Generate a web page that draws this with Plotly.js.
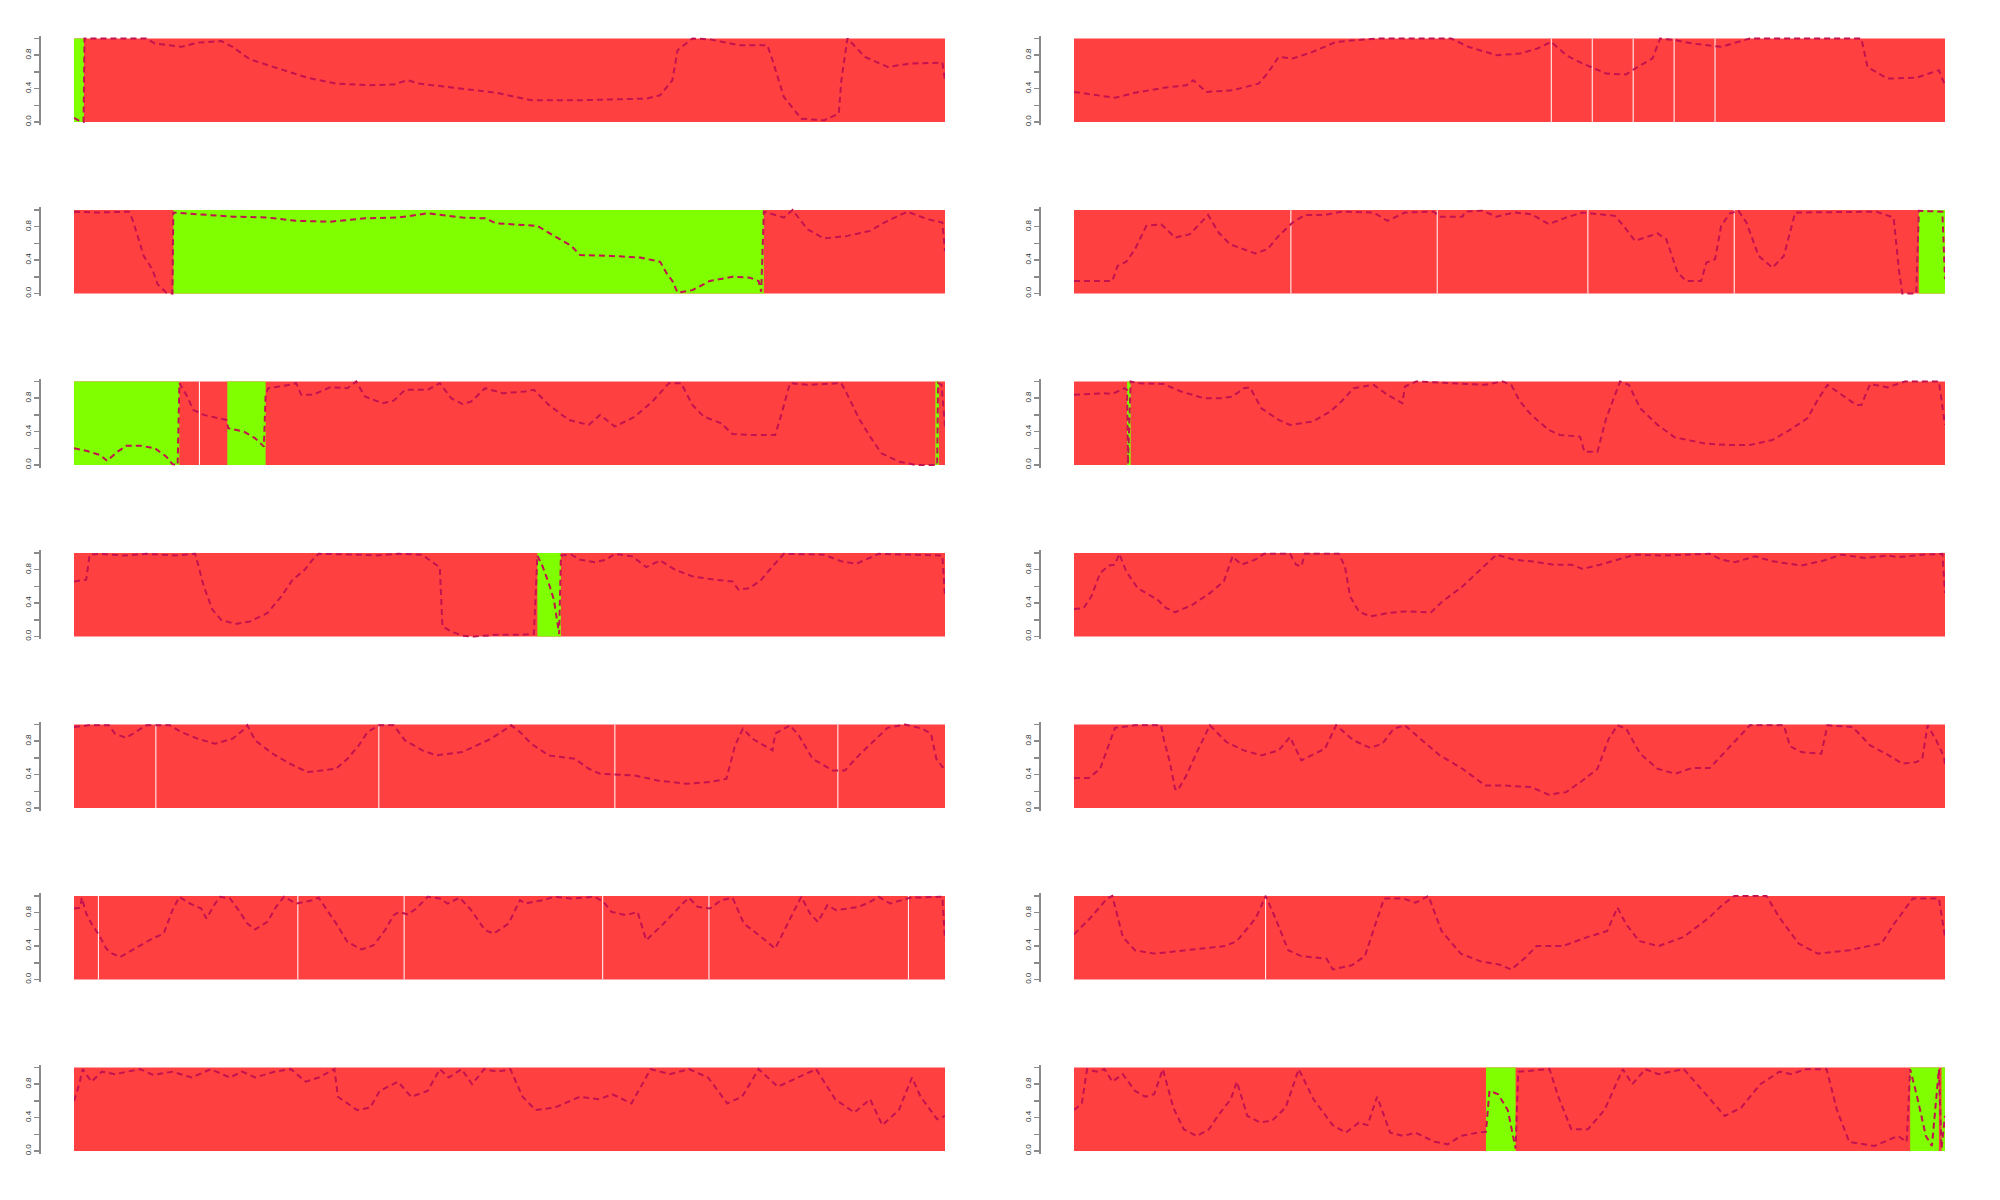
<!DOCTYPE html>
<html><head><meta charset="utf-8">
<script src="https://cdn.plot.ly/plotly-3.0.1.min.js"></script>
<style>html,body{margin:0;padding:0;background:#fff}#chart{width:2000px;height:1200px}</style>
</head><body><div id="chart"></div>
<script>
// ---- data: positions in % of sequence length, values 0..1 ----
const L1line=[[0,0.05],[0.5,0.02],[1.1,0.0],[1.2,1.0],[8.3,1.0],[9.3,0.94],[12.3,0.9],[14.2,0.95],[16.9,0.97],[18.2,0.9],[20.2,0.75],[23.5,0.64],[26.8,0.53],[30.1,0.46],[34.0,0.44],[36.7,0.45],[38.3,0.5],[39.6,0.46],[44.6,0.4],[48.5,0.35],[52.5,0.26],[57.8,0.26],[65.7,0.28],[67.3,0.32],[68.7,0.5],[69.3,0.86],[71.0,1.0],[73.0,0.99],[76.3,0.92],[79.6,0.92],[80.2,0.74],[81.5,0.3],[83.5,0.04],[86.1,0.02],[87.8,0.1],[88.1,0.5],[88.8,1.0],[90.8,0.78],[93.4,0.66],[96.0,0.7],[99.7,0.71],[100,0.5]];
const L1green=[[0,1.15]];
const L1breaks=[];

const R1line=[[0,0.36],[4.7,0.29],[7.0,0.35],[10.3,0.41],[12.9,0.44],[13.7,0.5],[15.2,0.36],[18.2,0.38],[21.2,0.46],[22.2,0.58],[23.5,0.78],[25.1,0.76],[27.4,0.84],[30.1,0.96],[34.7,1.0],[43.3,1.0],[45.3,0.9],[48.5,0.8],[51.2,0.82],[53.2,0.88],[54.8,0.96],[56.5,0.8],[58.4,0.7],[61.1,0.58],[63.4,0.57],[64.4,0.64],[66.4,0.76],[67.3,1.0],[69.0,0.98],[71.0,0.94],[74.3,0.9],[77.6,1.0],[90.4,1.0],[91.1,0.66],[93.4,0.52],[96.7,0.53],[99.3,0.62],[100,0.44]];
const R1green=[];
const R1breaks=[54.8,59.5,64.2,68.9,73.6];

const L2line=[[0,0.98],[2.4,0.97],[6.3,0.98],[6.7,0.89],[7.3,0.69],[8.0,0.45],[9.0,0.29],[9.6,0.11],[10.6,0.01],[11.3,0.0],[11.4,0.97],[14.2,0.95],[18.2,0.92],[22.2,0.91],[25.5,0.87],[29.4,0.86],[33.4,0.9],[37.3,0.91],[40.6,0.96],[44.6,0.91],[47.2,0.9],[48.5,0.84],[53.2,0.81],[55.1,0.69],[57.1,0.57],[58.1,0.46],[61.7,0.45],[65.0,0.43],[67.3,0.38],[68.0,0.25],[68.7,0.15],[69.3,0.01],[71.0,0.04],[73.0,0.15],[75.6,0.2],[77.6,0.19],[78.6,0.15],[78.9,0.02],[79.2,0.98],[81.5,0.91],[82.5,1.0],[84.2,0.77],[86.1,0.66],[88.8,0.69],[91.4,0.75],[93.4,0.87],[95.7,0.98],[98.0,0.89],[99.7,0.85],[100,0.51]];
const L2green=[[11.4,79.2]];
const L2breaks=[];

const R2line=[[0,0.15],[4.4,0.15],[5.0,0.33],[6.0,0.38],[7.0,0.53],[8.3,0.81],[10.0,0.83],[11.6,0.67],[13.3,0.71],[15.4,0.94],[16.6,0.73],[17.9,0.59],[20.8,0.48],[22.2,0.53],[23.5,0.69],[25.1,0.85],[26.5,0.94],[28.8,0.94],[30.7,0.98],[34.4,0.97],[36.0,0.87],[38.0,0.97],[41.3,0.98],[41.95,0.92],[44.6,0.92],[44.9,0.98],[46.9,0.99],[48.5,0.92],[50.5,0.97],[52.5,0.95],[54.5,0.83],[56.5,0.91],[58.4,0.97],[59.4,0.96],[62.1,0.93],[63.1,0.81],[64.4,0.63],[67.0,0.72],[68.0,0.65],[69.3,0.25],[70.3,0.15],[72.0,0.15],[72.6,0.37],[73.6,0.41],[74.3,0.81],[75.3,0.96],[76.3,0.99],[77.2,0.85],[78.6,0.45],[80.2,0.31],[81.5,0.45],[82.8,0.97],[92.1,0.98],[94.1,0.91],[94.7,0.29],[95.1,0.0],[96.7,0.0],[97.0,0.99],[99.7,0.98],[100,0.17]];
const R2green=[[97.0,100]];
const R2breaks=[24.9,41.7,59.0,75.8];

const L3line=[[0,0.2],[1.4,0.17],[3.0,0.12],[3.8,0.05],[5.0,0.16],[6.0,0.23],[7.7,0.23],[9.3,0.2],[10.6,0.1],[11.3,0.01],[11.9,0.0],[12.1,0.98],[12.9,0.84],[13.7,0.66],[14.9,0.6],[17.5,0.54],[17.7,0.44],[19.5,0.4],[20.8,0.32],[21.8,0.22],[22.0,0.84],[22.3,0.92],[24.8,0.96],[25.5,0.98],[26.1,0.84],[27.4,0.84],[29.4,0.93],[31.4,0.92],[32.4,1.0],[33.4,0.82],[35.4,0.74],[36.7,0.77],[38.0,0.9],[40.6,0.9],[42.0,0.98],[43.3,0.8],[44.6,0.73],[45.6,0.76],[47.2,0.92],[49.2,0.86],[51.8,0.88],[52.8,0.9],[54.5,0.72],[56.8,0.54],[59.1,0.48],[60.4,0.6],[62.1,0.46],[64.4,0.58],[66.4,0.76],[68.3,0.98],[69.7,0.98],[71.0,0.72],[72.3,0.58],[74.3,0.5],[75.6,0.37],[77.6,0.36],[80.5,0.36],[81.2,0.6],[82.2,0.98],[84.2,0.96],[88.1,0.98],[88.8,0.84],[90.1,0.56],[91.4,0.34],[92.7,0.14],[94.7,0.04],[96.7,0.0],[98.7,0.0],[99.1,0.0],[99.2,0.98],[99.6,0.96],[100,0.46]];
const L3green=[[0,12.1],[17.6,22.0],[98.9,99.3]];
const L3breaks=[14.4];

const R3line=[[0,0.84],[1.6,0.85],[3.4,0.86],[4.4,0.85],[5.8,0.92],[6.1,0.9],[6.2,0.01],[6.5,1.0],[7.3,0.98],[10.3,0.97],[12.3,0.88],[14.9,0.8],[16.9,0.8],[18.2,0.82],[19.5,0.92],[20.2,0.93],[21.5,0.68],[23.5,0.54],[24.8,0.48],[27.4,0.52],[29.4,0.64],[30.7,0.76],[32.1,0.92],[34.4,0.96],[36.0,0.84],[37.7,0.74],[38.0,0.94],[39.3,1.0],[44.6,0.97],[47.2,0.96],[49.2,1.0],[50.2,0.96],[51.2,0.76],[52.5,0.6],[54.5,0.42],[55.8,0.36],[58.1,0.34],[58.6,0.16],[60.1,0.16],[61.1,0.56],[62.7,1.0],[63.7,0.96],[65.0,0.68],[67.0,0.48],[69.0,0.33],[72.3,0.26],[74.9,0.24],[77.6,0.24],[80.2,0.3],[82.2,0.42],[84.2,0.56],[85.5,0.8],[86.5,0.96],[88.1,0.84],[89.8,0.72],[90.4,0.72],[91.4,0.97],[93.4,0.93],[95.4,1.0],[99.3,1.0],[100,0.48]];
const R3green=[[6.1,6.5]];
const R3breaks=[];

const L4line=[[0,0.66],[1.4,0.68],[1.8,0.98],[3.0,0.99],[5.7,0.97],[8.3,0.99],[11.6,0.97],[13.9,0.99],[14.2,0.88],[14.9,0.6],[15.9,0.32],[16.9,0.2],[18.5,0.15],[20.2,0.18],[22.2,0.28],[23.8,0.48],[25.1,0.68],[26.5,0.8],[27.4,0.92],[28.1,0.99],[32.7,0.98],[34.7,0.97],[37.3,0.99],[40.0,0.98],[41.0,0.9],[42.0,0.83],[42.3,0.12],[43.3,0.06],[44.6,0.01],[45.9,0.0],[48.5,0.02],[51.2,0.02],[52.8,0.03],[53.2,0.97],[53.8,0.84],[54.5,0.64],[55.1,0.44],[55.7,0.03],[55.9,0.97],[57.1,0.98],[58.1,0.92],[59.8,0.89],[61.1,0.92],[62.1,0.99],[64.1,0.96],[65.7,0.83],[67.3,0.91],[69.0,0.8],[71.0,0.72],[73.6,0.68],[75.6,0.66],[76.3,0.56],[77.6,0.58],[78.9,0.68],[80.2,0.84],[81.5,0.99],[86.1,0.98],[88.1,0.9],[89.8,0.87],[91.4,0.94],[92.4,0.99],[99.7,0.97],[100,0.48]];
const L4green=[[53.2,55.9]];
const L4breaks=[];

const R4line=[[0,0.33],[1.1,0.34],[2.0,0.48],[3.0,0.76],[4.0,0.85],[4.7,0.86],[5.2,0.99],[6.0,0.78],[7.3,0.58],[8.3,0.52],[9.6,0.44],[10.6,0.34],[11.6,0.29],[13.6,0.38],[15.6,0.52],[17.2,0.66],[18.2,0.96],[19.2,0.86],[20.8,0.92],[21.8,0.99],[24.8,0.99],[25.5,0.86],[26.1,0.84],[26.5,0.99],[30.4,0.99],[31.1,0.84],[31.7,0.48],[32.7,0.3],[34.0,0.24],[36.0,0.28],[38.0,0.3],[41.0,0.29],[42.3,0.42],[44.6,0.6],[46.6,0.8],[48.5,0.98],[50.5,0.92],[52.5,0.9],[55.1,0.86],[57.1,0.86],[58.4,0.81],[60.4,0.86],[62.4,0.92],[64.4,0.98],[67.7,0.97],[73.0,0.99],[74.3,0.92],[75.9,0.89],[78.2,0.96],[80.2,0.9],[83.5,0.85],[86.1,0.91],[88.1,0.98],[90.8,0.94],[93.4,0.97],[94.7,0.95],[97.4,0.98],[99.7,0.99],[100,0.52]];
const R4green=[];
const R4breaks=[];

const L5line=[[0,0.97],[1.7,0.99],[4.0,0.99],[4.7,0.89],[6.0,0.84],[7.3,0.93],[8.3,0.99],[11.0,0.99],[12.3,0.91],[14.2,0.83],[16.2,0.77],[18.2,0.83],[19.4,0.93],[19.9,0.99],[20.8,0.81],[22.8,0.65],[24.8,0.53],[26.8,0.43],[30.1,0.47],[31.4,0.59],[32.7,0.75],[33.7,0.91],[35.0,0.99],[36.7,0.99],[38.0,0.81],[40.0,0.69],[41.6,0.63],[44.6,0.67],[47.9,0.83],[50.2,0.99],[51.2,0.91],[52.5,0.77],[54.5,0.63],[57.5,0.59],[59.1,0.47],[60.4,0.41],[64.4,0.39],[67.0,0.33],[70.3,0.29],[73.0,0.31],[74.9,0.35],[75.9,0.75],[76.8,0.95],[77.9,0.83],[80.2,0.69],[80.5,0.89],[81.5,0.95],[82.2,0.99],[83.2,0.87],[84.8,0.59],[87.1,0.45],[88.5,0.45],[90.1,0.63],[92.1,0.83],[93.4,0.96],[95.4,1.0],[97.4,0.95],[98.4,0.89],[99.0,0.59],[99.7,0.49],[100,0.49]];
const L5green=[];
const L5breaks=[9.4,35.0,62.1,87.7];

const R5line=[[0,0.36],[1.7,0.36],[3.0,0.47],[4.0,0.75],[4.7,0.96],[7.0,0.99],[10.0,0.99],[10.3,0.83],[11.0,0.55],[11.6,0.23],[11.9,0.21],[12.9,0.39],[14.2,0.69],[15.6,0.99],[17.5,0.79],[19.5,0.69],[21.5,0.63],[23.5,0.69],[24.8,0.85],[26.1,0.57],[28.8,0.71],[30.1,0.99],[32.1,0.81],[34.0,0.72],[35.4,0.77],[36.7,0.95],[38.0,0.99],[39.3,0.87],[42.0,0.63],[44.6,0.47],[47.2,0.27],[49.2,0.27],[52.5,0.25],[54.5,0.16],[56.5,0.19],[58.4,0.33],[60.1,0.47],[61.4,0.83],[62.4,0.99],[63.4,0.95],[65.0,0.65],[67.0,0.47],[69.0,0.41],[71.0,0.48],[73.0,0.48],[74.9,0.69],[77.6,0.99],[81.5,0.99],[82.2,0.74],[83.5,0.67],[85.8,0.65],[86.5,0.99],[89.4,0.97],[91.4,0.75],[93.4,0.64],[95.1,0.53],[96.7,0.55],[97.4,0.59],[98.0,0.99],[99.0,0.81],[99.9,0.61],[100,0.51]];
const R5green=[];
const R5breaks=[];

const L6line=[[0,0.85],[0.7,0.86],[0.9,0.98],[1.4,0.79],[2.0,0.67],[2.9,0.53],[3.7,0.37],[4.4,0.31],[5.3,0.27],[7.0,0.37],[9.0,0.49],[10.3,0.55],[11.3,0.83],[12.1,0.99],[13.3,0.91],[14.6,0.85],[15.2,0.73],[16.2,0.91],[16.8,0.99],[17.9,0.97],[18.9,0.83],[19.9,0.67],[20.8,0.6],[22.2,0.69],[23.2,0.87],[24.1,0.99],[25.5,0.91],[27.4,0.95],[28.1,0.98],[28.8,0.87],[30.1,0.67],[31.4,0.45],[33.0,0.36],[34.4,0.41],[35.7,0.59],[36.7,0.77],[37.3,0.81],[38.3,0.78],[39.3,0.85],[40.6,0.99],[42.0,0.97],[42.9,0.91],[44.3,0.98],[45.6,0.83],[47.2,0.59],[48.2,0.55],[49.9,0.67],[51.2,0.95],[51.8,0.91],[53.8,0.95],[55.1,0.99],[57.1,0.97],[59.8,0.99],[60.8,0.93],[61.7,0.81],[63.4,0.77],[64.7,0.81],[65.7,0.47],[67.7,0.67],[69.7,0.89],[70.6,0.98],[71.6,0.87],[73.0,0.85],[74.3,0.95],[75.6,0.98],[76.9,0.67],[78.9,0.51],[80.5,0.37],[81.9,0.67],[82.9,0.87],[83.5,0.99],[84.5,0.79],[85.4,0.69],[86.5,0.89],[87.5,0.83],[90.1,0.87],[91.4,0.93],[92.4,0.99],[93.7,0.91],[96.0,0.98],[99.7,0.99],[100,0.47]];
const L6green=[];
const L6breaks=[2.8,25.7,37.9,60.7,72.9,95.8];

const R6line=[[0,0.54],[1.9,0.74],[3.8,0.97],[4.4,1.0],[5.6,0.51],[7.0,0.35],[9.2,0.31],[12.9,0.35],[17.3,0.4],[18.7,0.46],[20.9,0.74],[22.0,1.0],[23.1,0.74],[24.6,0.35],[26.1,0.28],[29.0,0.25],[29.7,0.12],[31.9,0.17],[33.4,0.28],[34.6,0.66],[35.6,0.97],[37.8,0.97],[39.2,0.92],[40.7,1.0],[42.2,0.58],[44.4,0.31],[46.6,0.22],[48.8,0.18],[50.2,0.12],[51.7,0.25],[53.1,0.4],[56.1,0.4],[59.0,0.51],[61.2,0.58],[62.4,0.86],[63.4,0.66],[64.9,0.46],[67.1,0.4],[70.0,0.51],[72.9,0.74],[74.4,0.89],[75.8,1.0],[79.5,1.0],[81.0,0.74],[83.2,0.43],[85.4,0.31],[89.0,0.35],[91.2,0.4],[92.7,0.43],[94.1,0.66],[96.3,0.97],[99.3,0.97],[100,0.51]];
const R6green=[];
const R6breaks=[22.0];

const L7line=[[0,0.6],[0.6,0.8],[1.0,0.98],[2.0,0.83],[3.2,0.95],[4.7,0.92],[6.1,0.95],[7.6,0.98],[9.1,0.91],[11.3,0.95],[13.5,0.88],[15.7,0.98],[17.9,0.88],[19.3,0.95],[20.8,0.88],[23.0,0.95],[24.9,0.98],[26.6,0.83],[28.1,0.88],[29.9,0.98],[30.3,0.65],[32.5,0.49],[34.0,0.52],[35.1,0.72],[37.2,0.83],[38.7,0.65],[40.6,0.72],[42.0,0.98],[43.0,0.88],[44.5,0.98],[45.7,0.8],[47.1,0.98],[48.6,0.95],[50.1,0.98],[51.5,0.65],[53.0,0.49],[55.2,0.52],[58.1,0.65],[60.3,0.62],[61.8,0.68],[64.0,0.57],[66.2,0.98],[68.4,0.92],[70.6,0.98],[72.8,0.88],[75.0,0.57],[76.7,0.65],[78.6,0.98],[80.8,0.77],[83.0,0.88],[85.2,0.98],[87.4,0.62],[89.6,0.46],[91.4,0.62],[92.8,0.31],[94.7,0.49],[96.2,0.88],[97.2,0.65],[99.1,0.38],[100,0.42]];
const L7green=[];
const L7breaks=[];

const R7line=[[0,0.49],[0.9,0.57],[1.5,0.98],[2.6,0.95],[3.5,0.98],[4.4,0.83],[5.6,0.92],[7.0,0.72],[8.2,0.65],[9.2,0.68],[10.2,0.98],[11.4,0.52],[12.6,0.26],[14.1,0.18],[15.5,0.26],[16.5,0.42],[18.0,0.62],[18.7,0.83],[19.9,0.42],[21.4,0.34],[22.8,0.37],[24.3,0.52],[25.8,0.98],[27.5,0.62],[29.7,0.31],[31.2,0.22],[32.7,0.34],[33.7,0.31],[34.8,0.65],[36.3,0.22],[37.8,0.18],[39.2,0.22],[41.4,0.11],[42.9,0.08],[44.4,0.18],[46.3,0.22],[47.3,0.23],[47.7,0.72],[48.7,0.68],[49.8,0.49],[50.7,0.03],[51.0,0.95],[54.6,0.98],[55.6,0.65],[57.1,0.26],[59.0,0.26],[60.9,0.49],[63.0,0.98],[64.1,0.8],[65.6,0.98],[67.1,0.92],[70.0,0.98],[72.2,0.72],[74.7,0.42],[76.6,0.52],[78.8,0.8],[81.0,0.95],[82.4,0.92],[83.9,0.98],[86.4,0.98],[87.6,0.49],[89.0,0.11],[91.9,0.06],[94.6,0.18],[95.6,0.11],[96.0,0.98],[96.8,0.65],[97.8,0.18],[98.5,0.06],[99.3,0.98],[99.6,0.03],[100,0.42]];
const R7green=[[47.3,50.7],[96.0,99.3],[99.6,100]];
const R7breaks=[];

const yTickVals=[0,0.2,0.4,0.6,0.8,1.0];
const yTickText=['0.0','','0.4','','0.8',''];

// ---- styling ----
const RED='#FF4040', GREEN='#7FFF00', LINE='#C2124F';
const panels=[
 [L1line,L1green,L1breaks],[R1line,R1green,R1breaks],
 [L2line,L2green,L2breaks],[R2line,R2green,R2breaks],
 [L3line,L3green,L3breaks],[R3line,R3green,R3breaks],
 [L4line,L4green,L4breaks],[R4line,R4green,R4breaks],
 [L5line,L5green,L5breaks],[R5line,R5green,R5breaks],
 [L6line,L6green,L6breaks],[R6line,R6green,R6breaks],
 [L7line,L7green,L7breaks],[R7line,R7green,R7breaks]
];
const W=2000,H=1200;
const colLeft=[74,1074], colRight=[945,1945];
const rowTop0=38.5, rowStep=171.5, panelH=83.5, pad=0.03;
const traces=[];
const layout={width:W,height:H,margin:{l:0,r:0,t:0,b:0},paper_bgcolor:'#fff',plot_bgcolor:'rgba(0,0,0,0)',
  showlegend:false,barmode:'overlay',hovermode:false};
panels.forEach((p,k)=>{
  const n=k+1, row=Math.floor(k/2), col=k%2;
  const sx=n===1?'':String(n);
  const xr='x'+sx, yr='y'+sx;
  const top=rowTop0+rowStep*row - pad*panelH, bot=rowTop0+rowStep*row+panelH + pad*panelH;
  layout['xaxis'+sx]={domain:[colLeft[col]/W,colRight[col]/W],range:[0,100],anchor:yr,visible:false,fixedrange:true};
  layout['yaxis'+sx]={domain:[1-bot/H,1-top/H],range:[-pad,1+pad],anchor:'free',position:(colLeft[col]-35)/W,
    showline:true,linecolor:'#8a8a8a',linewidth:1.5,ticks:'outside',ticklen:5,tickwidth:1.5,tickcolor:'#8a8a8a',
    tickmode:'array',tickvals:yTickVals,ticktext:yTickText,tickangle:-90,
    tickfont:{size:8,color:'#333',family:'Liberation Sans, Arial, sans-serif'},
    showgrid:false,zeroline:false,fixedrange:true};
  const [line,green,breaks]=p;
  traces.push({type:'bar',x:[50],y:[1],width:[100],base:[0],marker:{color:RED,line:{width:0}},xaxis:xr,yaxis:yr,hoverinfo:'skip'});
  if(green.length){
    traces.push({type:'bar',x:green.map(g=>(g[0]+g[1])/2),y:green.map(()=>1),width:green.map(g=>g[1]-g[0]),base:green.map(()=>0),
      marker:{color:GREEN,line:{width:0}},xaxis:xr,yaxis:yr,hoverinfo:'skip'});
  }
  if(breaks.length){
    const bx=[],by=[];
    breaks.forEach(b=>{bx.push(b,b,null);by.push(0,1,null);});
    traces.push({type:'scatter',mode:'lines',x:bx,y:by,line:{color:'#fff',width:1},xaxis:xr,yaxis:yr,hoverinfo:'skip'});
  }
  traces.push({type:'scatter',mode:'lines',x:line.map(q=>q[0]),y:line.map(q=>q[1]),
    line:{color:LINE,width:2,dash:'6px,4px'},xaxis:xr,yaxis:yr,hoverinfo:'skip'});
});
Plotly.newPlot('chart',traces,layout,{staticPlot:true,displayModeBar:false});
</script>
</body></html>
